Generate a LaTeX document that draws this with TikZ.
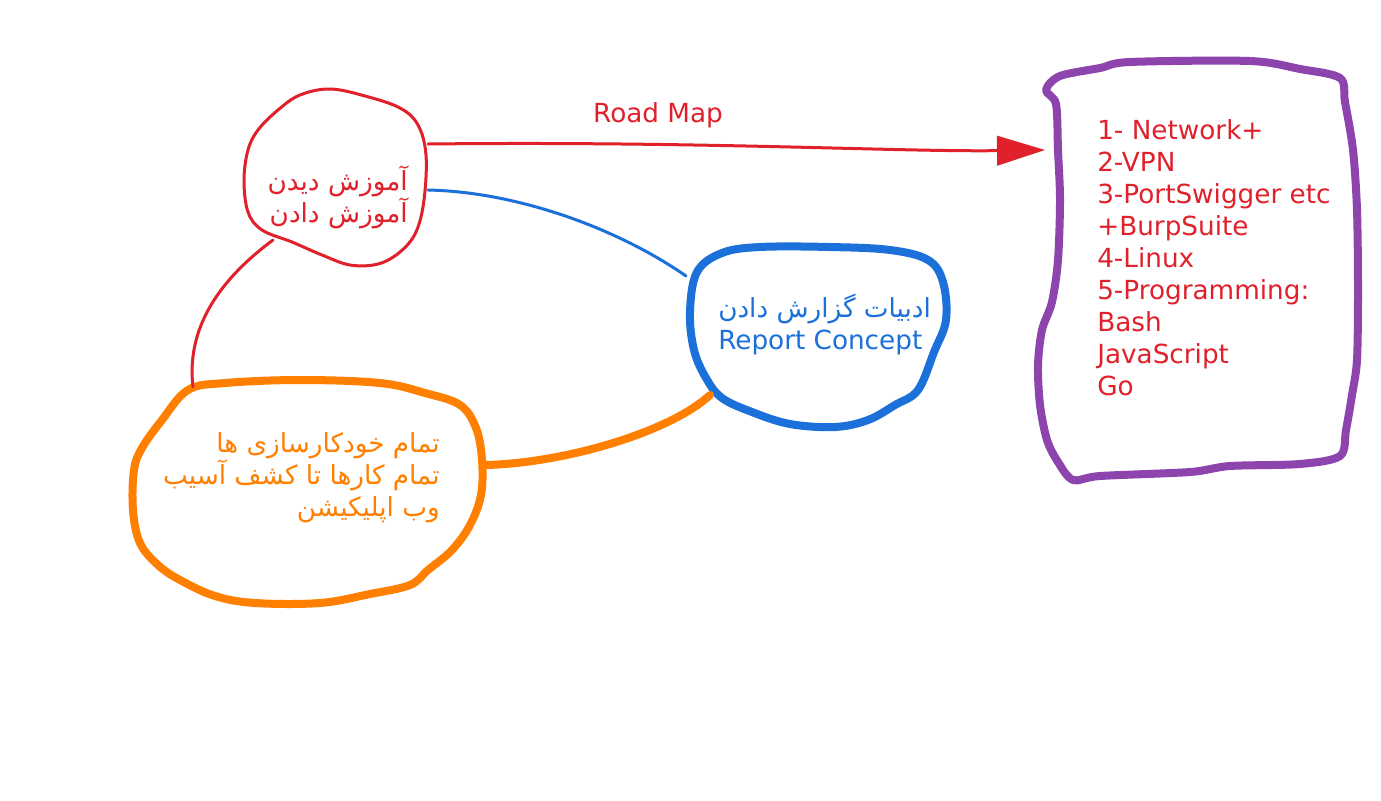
\documentclass[tikz,border=0pt]{standalone}
\usepackage{fontspec}
\setmainfont{DejaVu Sans}
\newfontfamily\farsi[Script=Arabic]{DejaVu Sans}
\TeXXeTstate=1
\usepackage{xcolor}
\usetikzlibrary{arrows.meta,positioning}
\definecolor{penred}{RGB}{224,32,42}
\definecolor{penblue}{RGB}{27,113,217}
\definecolor{penorange}{RGB}{255,127,0}
\definecolor{penpurple}{RGB}{142,68,173}
\newcommand{\fatext}[1]{{\farsi\beginR #1\endR}}

\begin{document}
\begin{tikzpicture}[x=0.75pt, y=-0.75pt,
    thinpen/.style={line width=2.25pt, line cap=round, line join=round},
    thickpen/.style={line width=6pt, line cap=round, line join=round},
    label/.style={inner sep=0pt, font=\fontsize{19.7}{24}\selectfont}]
    \useasboundingbox [fill=white] (0,0) rectangle (1381,800);
    % blobs
    \draw [thinpen, penred] plot[smooth cycle, tension=0.6] coordinates {(278,110) (300,95) (330,89) (365,96) (400,108) (418,125) (426,155) (424,200) (416,232) (400,252) (378,264) (350,265) (322,255) (292,242) (262,230) (248,212) (244,180) (248,150) (258,130)};
    \draw [thickpen, penorange] plot[smooth cycle, tension=0.6] coordinates {(188,390) (225,383) (300,380) (380,383) (425,393) (460,405) (476,428) (482,460) (481,495) (470,525) (452,550) (428,570) (410,585) (370,594) (320,603) (255,603) (215,596) (180,580) (158,565) (140,543) (133,510) (134,470) (142,448) (162,420)};
    \draw [thickpen, penblue] plot[smooth cycle, tension=0.6] coordinates {(697,272) (722,253) (760,247) (830,247) (890,250) (928,260) (943,282) (946,320) (934,352) (918,390) (895,405) (868,420) (835,427) (790,424) (752,412) (722,398) (706,378) (694,350) (690,312)};
    \draw [thickpen, penpurple] plot[smooth cycle, tension=0.5] coordinates {(1056,104) (1046,90) (1060,76) (1100,68) (1130,62) (1250,61) (1300,69) (1340,78) (1345,102) (1353,150) (1357,210) (1358,290) (1357,360) (1352,395) (1346,430) (1340,456) (1300,464) (1230,466) (1190,472) (1100,476) (1073,480) (1058,462) (1047,440) (1040,405) (1038,365) (1042,330) (1052,302) (1058,260) (1060,200) (1058,150)};
    % texts
    \node [label, penred, align=right, anchor=east] (learn) at (408,197) {\fatext{آموزش دیدن}\\\fatext{آموزش دادن}};
    \node [label, penorange, align=right, anchor=east] (auto) at (440,478) {\fatext{تمام خودکارسازی ها}\\\fatext{تمام کارها تا کشف آسیب}\\\fatext{وب اپلیکیشن}};
    \node [label, penblue, align=left, anchor=west] (report) at (718,324) {\fatext{ادبیات گزارش دادن}\\Report Concept};
    \node [label, penred, align=left, anchor=west] (list) at (1097,258) {1- Network+\\2-VPN\\3-PortSwigger etc\\+BurpSuite\\4-Linux\\5-Programming:\\Bash\\JavaScript\\Go};
    \node [label, penred] (roadmap) at (658,115) {Road Map};
    % connector ends
    \coordinate (learnE) at (428,144);
    \coordinate (learnB) at (428,190);
    \coordinate (learnS) at (273,240);
    \coordinate (listW) at (1045,150);
    \coordinate (reportN) at (686,276);
    \coordinate (reportS) at (710,395);
    \coordinate (autoN) at (193,387);
    \coordinate (autoE) at (486,465);
    % connectors
    \draw [thinpen, penred, -{Triangle[length=36pt, width=22pt]}] (learnE) .. controls (700,141) and (900,152) .. (listW);
    \draw [thinpen, penblue] (learnB) .. controls (520,192) and (620,230) .. (reportN);
    \draw [thinpen, penred] (learnS) .. controls (230,272) and (185,320) .. (autoN);
    \draw [thickpen, penorange] (autoE) .. controls (565,463) and (670,432) .. (reportS);
\end{tikzpicture}
\end{document}
